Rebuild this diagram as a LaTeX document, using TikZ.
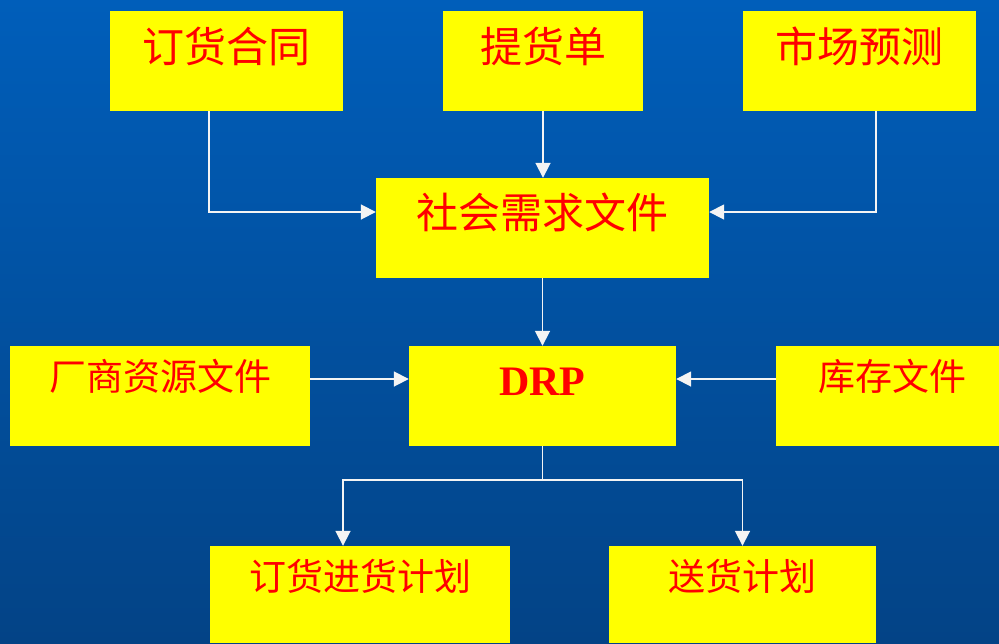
\documentclass[tikz,border=0pt]{standalone}
\usepackage{fontspec}
\newfontfamily\cjk{Noto Sans CJK SC}
\newfontfamily\drpfont{Liberation Serif}
\usetikzlibrary{arrows.meta}
\definecolor{bgtop}{HTML}{005EBA}
\definecolor{bgbot}{HTML}{034386}
\definecolor{boxyellow}{HTML}{FFFF00}
\definecolor{txtred}{HTML}{FF0000}
\definecolor{linewhite}{HTML}{F4F4F4}
\tikzset{
  box/.style={rectangle, fill=boxyellow, draw=none, inner sep=0pt, minimum height=100pt},
  tbig/.style={anchor=base, inner sep=0pt, text=txtred, font=\cjk\fontsize{42}{42}\selectfont},
  tsmall/.style={anchor=base, inner sep=0pt, text=txtred, font=\cjk\fontsize{37}{37}\selectfont},
  tdrp/.style={anchor=base, inner sep=0pt, text=txtred, font=\drpfont\bfseries\fontsize{42}{42}\selectfont},
  arr/.style={draw=linewhite, line width=1.8pt, -{Triangle[length=15pt,width=15pt]}},
  ln/.style={draw=linewhite, line width=1.8pt}
}
\begin{document}
\begin{tikzpicture}[x=1pt,y=-1pt]
\useasboundingbox (0,0) rectangle (999,643);
\shade[top color=bgtop, bottom color=bgbot] (0,0) rectangle (999,643);
% boxes
\node[box, minimum width=233pt] (a) at (226.5,61) {};
\node[box, minimum width=200pt] (b) at (543,61) {};
\node[box, minimum width=233pt] (c) at (859.5,61) {};
\node[box, minimum width=333pt] (d) at (542.5,228) {};
\node[box, minimum width=300pt] (e) at (160,396) {};
\node[box, minimum width=267pt] (f) at (542.5,396) {};
\node[box, minimum width=223pt] (g) at (887.5,396) {};
\node[box, minimum width=300pt, minimum height=97pt] (h) at (360,594.5) {};
\node[box, minimum width=267pt, minimum height=97pt] (i) at (742.5,594.5) {};
% texts
\node[tbig] (ta) at ([yshift=-52pt]a.north) {订货合同};
\node[tbig] (tb) at ([yshift=-52pt]b.north) {提货单};
\node[tbig] (tc) at ([yshift=-52pt]c.north) {市场预测};
\node[tbig] (td) at ([yshift=-51pt]d.north) {社会需求文件};
\node[tsmall] (te) at ([yshift=-45pt]e.north) {厂商资源文件};
\node[tdrp] (tf) at ([yshift=-50pt]f.north) {DRP};
\node[tsmall] (tg) at ([xshift=4.5pt,yshift=-45pt]g.north) {库存文件};
\node[tsmall] (th) at ([yshift=-45pt]h.north) {订货进货计划};
\node[tsmall] (ti) at ([yshift=-45pt]i.north) {送货计划};
% connectors
\draw[arr] ([xshift=-17.5pt]a.south) |- ([yshift=16pt]d.west);
\draw[arr] (b.south) -- (b.south |- d.north);
\draw[arr] ([xshift=16.5pt]c.south) |- ([yshift=16pt]d.east);
\draw[arr] (d.south) -- (f.north);
\draw[arr] ([yshift=17pt]e.east) -- ([yshift=17pt]f.west);
\draw[arr] ([yshift=17pt]g.west) -- ([yshift=17pt]f.east);
\coordinate (split) at (542.5,480);
\draw[ln] (f.south) -- (split);
\draw[arr] (split) -| ([xshift=-17pt]h.north);
\draw[arr] (split) -| (i.north);
\end{tikzpicture}
\end{document}
